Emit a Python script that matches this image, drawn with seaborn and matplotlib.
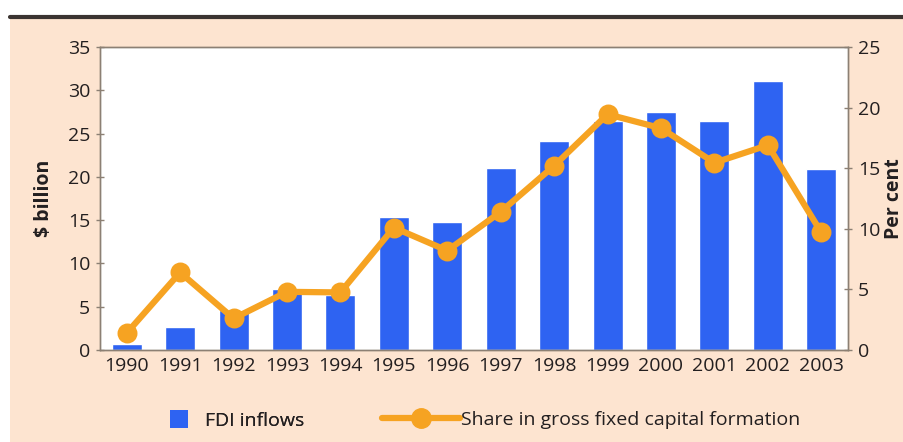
import numpy as np
import pandas as pd
import matplotlib.pyplot as plt
import seaborn as sns
from matplotlib.patches import Rectangle
from matplotlib.lines import Line2D

# chart data
years = ["1990", "1991", "1992", "1993", "1994", "1995", "1996",
         "1997", "1998", "1999", "2000", "2001", "2002", "2003"]
fdi_inflows = [0.7, 2.6, 4.6, 7.0, 6.4, 15.4, 14.8, 21.0, 24.1, 26.4, 27.5, 26.4, 31.1, 20.9]
share_gfcf = [1.4, 6.4, 2.6, 4.8, 4.75, 10.1, 8.2, 11.4, 15.2, 19.45, 18.3, 15.45, 16.9, 9.7]
left_ticks = [0, 5, 10, 15, 20, 25, 30, 35]
right_ticks = [0, 5, 10, 15, 20, 25]

df = pd.DataFrame({"year": years, "fdi": fdi_inflows, "share": share_gfcf})

bar_blue = "#2e63f2"
line_orange = "#f6a322"
peach = "#fde4d0"
text_col = "#231f20"
spine_col = "#8c8074"

sns.set_style("white")
plt.rcParams["font.family"] = ["Open Sans", "DejaVu Sans"]

fig = plt.figure(figsize=(9.04, 4.42), dpi=100)
fig.patch.set_facecolor("white")

# peach panel with dark rule on top
fig.patches.append(Rectangle((10 / 904, 0), 894 / 904, 1 - 18 / 442,
                             transform=fig.transFigure, facecolor=peach,
                             edgecolor="none", zorder=-10))
fig.lines.append(Line2D([10 / 904, 1], [1 - 17 / 442, 1 - 17 / 442],
                        transform=fig.transFigure, color="#3b3431", lw=3, zorder=-5))

ax = fig.add_axes([100 / 904, 1 - 350 / 442, 748 / 904, 303 / 442])
ax.set_facecolor("white")

sns.barplot(data=df, x="year", y="fdi", color=bar_blue, saturation=1,
            width=0.56, ax=ax, zorder=2)
ax.set_ylim(0, 35)
ax.set_yticks(left_ticks)
ax.set_xlim(-0.5, len(years) - 0.5)
ax.set_xlabel("")
ax.set_ylabel("$ billion", fontsize=14, fontweight="bold", color=text_col, labelpad=10)

ax2 = ax.twinx()
sns.pointplot(data=df, x="year", y="share", color=line_orange, ax=ax2,
              markersize=11, linewidth=4.5, zorder=3)
ax2.set_ylim(0, 25)
ax2.set_yticks(right_ticks)
ax2.set_xlim(-0.5, len(years) - 0.5)
ax2.set_ylabel("Per cent", fontsize=14, fontweight="bold", color=text_col,
               labelpad=3)

for a in (ax, ax2):
    for s in a.spines.values():
        s.set_color(spine_col)
        s.set_linewidth(1.0)
    a.tick_params(axis="both", labelsize=14, colors=text_col, length=6,
                  width=1, color=spine_col, direction="inout", pad=4)

# x ticks sit between categories
ax.set_xticks(np.arange(len(years)))
ax.set_xticklabels(years)
ax.tick_params(axis="x", length=0, pad=5)
ax.set_xticks(np.arange(len(years) + 1) - 0.5, minor=True)
ax.tick_params(axis="x", which="minor", length=6, width=1, color=spine_col,
               direction="inout")

# legend
bar_handle = Rectangle((0, 0), 1, 1, facecolor=bar_blue, edgecolor="none")
line_handle = Line2D([], [], color=line_orange, lw=4.5, marker="o", markersize=14)
leg1 = fig.legend([bar_handle], ["FDI inflows"], loc="center left",
                  bbox_to_anchor=(152 / 904, 1 - 420 / 442), frameon=False,
                  fontsize=14, handlelength=0.95, handleheight=1.0, handletextpad=0.9,
                  labelcolor=text_col)
leg2 = fig.legend([line_handle], ["Share in gross fixed capital formation"],
                  loc="center left", bbox_to_anchor=(365 / 904, 1 - 420 / 442),
                  frameon=False, fontsize=14, handlelength=4.0, handletextpad=0.05,
                  labelcolor=text_col)
fig.add_artist(leg1)

fig.savefig("out.png", dpi=100, facecolor=fig.get_facecolor())
